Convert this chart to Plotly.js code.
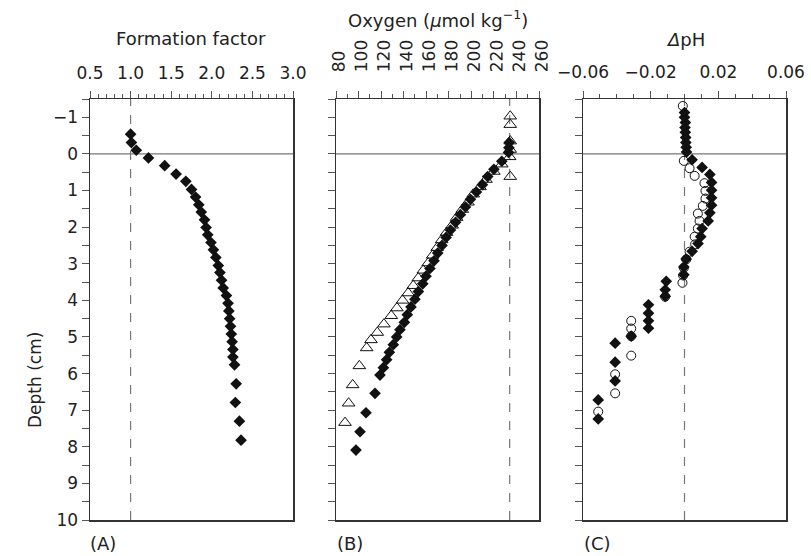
<!DOCTYPE html>
<html>
<head>
<meta charset="utf-8">
<script src="https://cdn.plot.ly/plotly-3.0.1.min.js"></script>
<style>html,body{margin:0;padding:0;background:#fff;}#chart{width:811px;height:556px;}</style>
</head>
<body>
<div id="chart"></div>
<script>
// Panel A: formation factor vs depth
const depthA = [-0.54,-0.31,-0.10,0.11,0.32,0.55,0.75,0.97,1.18,1.39,1.59,1.80,2.01,2.21,2.42,2.62,2.83,3.05,3.24,3.45,3.66,3.87,4.08,4.29,4.50,4.71,4.92,5.13,5.34,5.55,5.76,6.28,6.79,7.30,7.82];
const formationFactor = [1.00,1.01,1.07,1.22,1.42,1.56,1.68,1.75,1.80,1.84,1.87,1.91,1.93,1.95,1.99,2.02,2.05,2.08,2.10,2.12,2.14,2.18,2.20,2.21,2.22,2.23,2.24,2.25,2.26,2.26,2.28,2.30,2.29,2.34,2.36];

// Panel B: oxygen, filled diamonds
const depthO2Filled = [-0.31,-0.17,-0.04,0.20,0.42,0.62,0.84,1.04,1.24,1.45,1.66,1.87,2.08,2.28,2.50,2.71,2.92,3.13,3.34,3.55,3.76,3.97,4.18,4.39,4.60,4.80,5.00,5.21,5.42,5.62,5.84,6.04,6.54,7.07,7.59,8.09];
const o2Filled = [233.6,233.3,233,227,220,214.5,209.8,204.5,199.2,194.8,190.3,186,181.5,177.6,174,170.2,166.9,163.3,159.8,156.9,153,150,146.5,143.2,140.6,136.7,133.8,130.8,127.3,124.9,122,119,114.6,106.6,101.3,97.7];
// Panel B: oxygen, open triangles
const depthO2Open = [-1.03,-0.80,-0.35,-0.12,0.08,0.28,0.48,0.62,0.70,0.90,1.10,1.32,1.52,1.74,1.95,2.15,2.35,2.56,2.77,2.98,3.18,3.39,3.60,3.80,4.00,4.21,4.42,4.65,4.88,5.08,5.30,5.79,6.31,6.81,7.34];
const o2Open = [234.5,234.5,234.5,234.5,234,227,220,234.5,213,207.7,201.7,197,192,187,183,178,173.7,169.8,165.7,161.8,157.4,153,148.5,144,139,134,129,122.5,116.6,111,107.2,100.7,94.8,91.2,88];

// Panel C: delta pH, filled diamonds
const depthPhFilled = [-1.13,-1.00,-0.86,-0.72,-0.59,-0.45,-0.31,-0.18,-0.05,0.16,0.37,0.56,0.78,0.99,1.20,1.40,1.61,1.83,2.04,2.26,2.45,2.66,2.87,3.09,3.30,3.48,3.71,3.89,4.12,4.35,4.56,4.76,4.98,5.17,5.69,6.20,6.72,7.24];
const phFilled = [0.0000,0.0000,0.0005,0.0003,0.0005,0.0007,0.0008,0.0010,0.0012,0.0045,0.0104,0.0150,0.0160,0.0160,0.0160,0.0160,0.0150,0.0140,0.0104,0.0096,0.0080,0.0045,0.0010,-0.0004,-0.0004,-0.0108,-0.0114,-0.0114,-0.0213,-0.0213,-0.0213,-0.0213,-0.0315,-0.0410,-0.0410,-0.0410,-0.0510,-0.0510];
// Panel C: delta pH, open circles
const depthPhOpen = [-1.31,0.19,0.39,0.60,0.80,1.01,1.22,1.42,1.63,1.83,2.04,2.26,2.47,2.67,2.88,3.11,3.32,3.52,3.90,4.56,4.77,4.98,5.51,6.02,6.54,7.04];
const phOpen = [-0.0010,-0.0004,0.0030,0.0060,0.0118,0.0124,0.0124,0.0108,0.0079,0.0089,0.0079,0.0060,0.0063,0.0030,0.0010,-0.0004,-0.0008,-0.0012,-0.0114,-0.0315,-0.0315,-0.0315,-0.0315,-0.0410,-0.0410,-0.0510];

const FONT = 'DejaVu Sans, Liberation Sans, Arial, sans-serif';
const INK = '#222';
const W = 811, H = 556;
const dom = (a, b) => [a / W, b / W];
const yDom = [(H - 520) / H, (H - 99) / H];

const diamond = {symbol: 'diamond', size: 9, color: '#111', line: {width: 0}};
const traces = [
  {x: formationFactor, y: depthA, xaxis: 'x', yaxis: 'y', mode: 'markers', type: 'scatter', marker: diamond},
  {x: o2Open, y: depthO2Open, xaxis: 'x2', yaxis: 'y2', mode: 'markers', type: 'scatter',
   marker: {symbol: 'triangle-up-open', size: 11, color: '#111', line: {width: 1, color: '#111'}}},
  {x: o2Filled, y: depthO2Filled, xaxis: 'x2', yaxis: 'y2', mode: 'markers', type: 'scatter', marker: diamond},
  {x: phOpen, y: depthPhOpen, xaxis: 'x3', yaxis: 'y3', mode: 'markers', type: 'scatter',
   marker: {symbol: 'circle-open', size: 9, color: '#111', line: {width: 1, color: '#111'}}},
  {x: phFilled, y: depthPhFilled, xaxis: 'x3', yaxis: 'y3', mode: 'markers', type: 'scatter', marker: diamond}
];

function xAx(anchor, domain, range, tick0, dtick, minorD, fmt, angle, standoff) {
  return {
    anchor: anchor, domain: domain, range: range, side: 'top',
    showline: true, linecolor: '#333', linewidth: 1.5, mirror: true,
    ticks: 'outside', ticklen: 7, tickcolor: '#555', tickwidth: 1,
    tickmode: 'linear', tick0: tick0, dtick: dtick, tickformat: fmt,
    tickangle: angle, ticklabelstandoff: standoff,
    tickfont: {family: FONT, size: 17, color: INK},
    minor: {ticks: 'outside', tick0: tick0, dtick: minorD, ticklen: 4, tickcolor: '#555', tickwidth: 1, showgrid: false},
    showgrid: false, zeroline: false, fixedrange: true
  };
}
function yAx(xName, labels) {
  return {
    domain: yDom, range: [10, -1.5], anchor: xName,
    showline: true, linecolor: '#333', linewidth: 1.5, mirror: true,
    ticks: 'outside', ticklen: 7, tickcolor: '#555', tickwidth: 1,
    tickmode: 'linear', tick0: 0, dtick: 1, showticklabels: labels,
    tickfont: {family: FONT, size: 17, color: INK},
    minor: {ticks: 'outside', tick0: 0, dtick: 0.5, ticklen: 7, tickcolor: '#555', tickwidth: 1, showgrid: false},
    showgrid: false, zeroline: false, fixedrange: true
  };
}

const layout = {
  width: W, height: H, showlegend: false,
  margin: {l: 0, r: 0, t: 0, b: 0, pad: 0},
  paper_bgcolor: '#fff', plot_bgcolor: '#fff',
  font: {family: FONT, color: INK},
  xaxis: xAx('y', dom(90, 293), [0.5, 3.0], 0.5, 0.5, 0.1, '.1f', 0, 5),
  xaxis2: xAx('y2', dom(336, 539), [80, 260], 80, 20, 10, 'd', -89.9, 3),
  xaxis3: xAx('y3', dom(583, 786), [-0.06, 0.06], -0.06, 0.04, 0.01, '.2f', 0, 6),
  yaxis: yAx('x', true),
  yaxis2: yAx('x2', false),
  yaxis3: yAx('x3', false),
  shapes: [
    {type: 'line', xref: 'x', yref: 'y domain', x0: 1, x1: 1, y0: 0, y1: 1, layer: 'below', line: {color: '#777', width: 1.2, dash: 'dash'}},
    {type: 'line', xref: 'x2', yref: 'y2 domain', x0: 234, x1: 234, y0: 0, y1: 1, layer: 'below', line: {color: '#777', width: 1.2, dash: 'dash'}},
    {type: 'line', xref: 'x3', yref: 'y3 domain', x0: 0, x1: 0, y0: 0, y1: 1, layer: 'below', line: {color: '#777', width: 1.2, dash: 'dash'}},
    {type: 'line', xref: 'x domain', yref: 'y', x0: 0, x1: 1, y0: 0, y1: 0, layer: 'below', line: {color: '#777', width: 1.2}},
    {type: 'line', xref: 'x2 domain', yref: 'y2', x0: 0, x1: 1, y0: 0, y1: 0, layer: 'below', line: {color: '#777', width: 1.2}},
    {type: 'line', xref: 'x3 domain', yref: 'y3', x0: 0, x1: 1, y0: 0, y1: 0, layer: 'below', line: {color: '#777', width: 1.2}}
  ],
  annotations: [
    {text: 'Formation factor', xref: 'paper', yref: 'paper', x: 191 / W, y: (H - 38) / H, showarrow: false, xanchor: 'center', yanchor: 'middle', font: {family: FONT, size: 18, color: INK}},
    {text: 'Oxygen (<i>μ</i>mol kg<sup>−1</sup>)', xref: 'paper', yref: 'paper', x: 438 / W, y: (H - 19) / H, showarrow: false, xanchor: 'center', yanchor: 'middle', font: {family: FONT, size: 18, color: INK}},
    {text: '<i>Δ</i>pH', xref: 'paper', yref: 'paper', x: 685 / W, y: (H - 39) / H, showarrow: false, xanchor: 'center', yanchor: 'middle', font: {family: FONT, size: 18, color: INK}},
    {text: 'Depth (cm)', xref: 'paper', yref: 'paper', x: 35 / W, y: (H - 380) / H, textangle: -90, showarrow: false, xanchor: 'center', yanchor: 'middle', font: {family: FONT, size: 17, color: INK}},
    {text: '(A)', xref: 'paper', yref: 'paper', x: 88 / W, y: (H - 543) / H, showarrow: false, xanchor: 'left', yanchor: 'middle', font: {family: FONT, size: 18, color: INK}},
    {text: '(B)', xref: 'paper', yref: 'paper', x: 335 / W, y: (H - 543) / H, showarrow: false, xanchor: 'left', yanchor: 'middle', font: {family: FONT, size: 18, color: INK}},
    {text: '(C)', xref: 'paper', yref: 'paper', x: 582 / W, y: (H - 543) / H, showarrow: false, xanchor: 'left', yanchor: 'middle', font: {family: FONT, size: 18, color: INK}}
  ]
};

Plotly.newPlot('chart', traces, layout, {staticPlot: true, displayModeBar: false});
</script>
</body>
</html>
